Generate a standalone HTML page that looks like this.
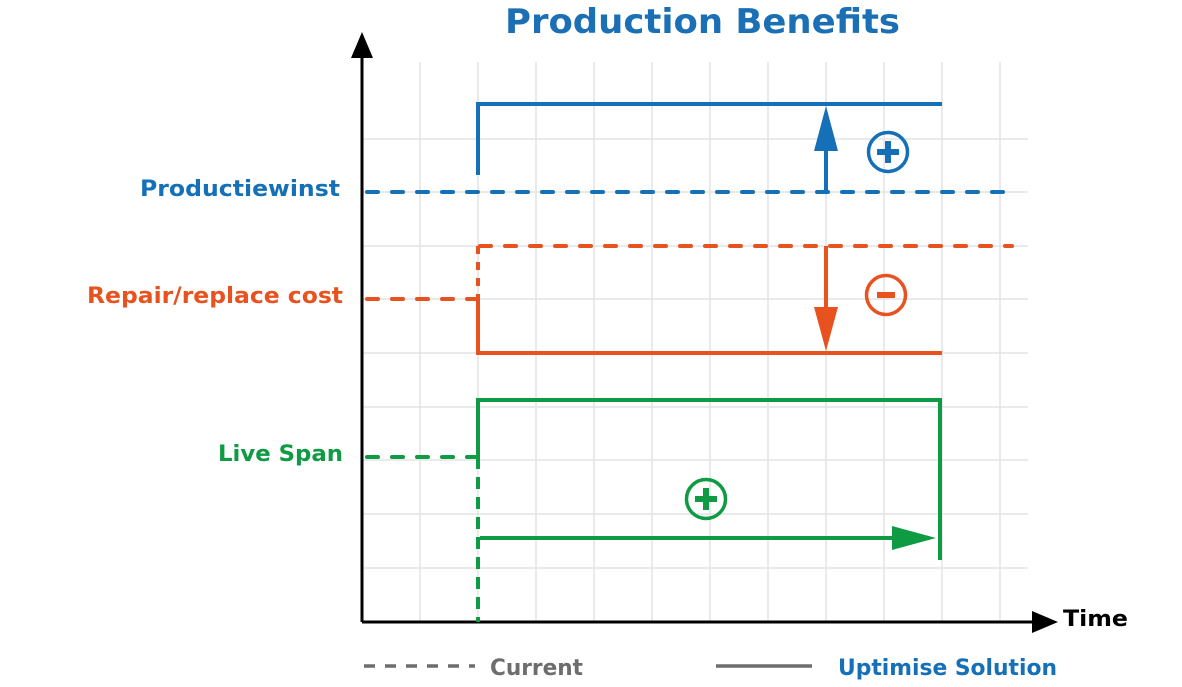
<!DOCTYPE html>
<html><head><style>
body{margin:0;background:#fff;}
svg text{font-family:"DejaVu Sans","Liberation Sans",sans-serif;font-weight:bold;}
</style></head><body>
<svg width="1182" height="682" viewBox="0 0 1182 682" xmlns="http://www.w3.org/2000/svg">
<g stroke="#e3e3e3" stroke-width="1.5">
<line x1="420" y1="62" x2="420" y2="622"/><line x1="478" y1="62" x2="478" y2="622"/><line x1="536" y1="62" x2="536" y2="622"/><line x1="594" y1="62" x2="594" y2="622"/><line x1="652" y1="62" x2="652" y2="622"/><line x1="710" y1="62" x2="710" y2="622"/><line x1="768" y1="62" x2="768" y2="622"/><line x1="826" y1="62" x2="826" y2="622"/><line x1="884" y1="62" x2="884" y2="622"/><line x1="942" y1="62" x2="942" y2="622"/><line x1="1000" y1="62" x2="1000" y2="622"/>
<line x1="362" y1="139" x2="1028" y2="139"/><line x1="362" y1="192" x2="1028" y2="192"/><line x1="362" y1="246" x2="1028" y2="246"/><line x1="362" y1="299" x2="1028" y2="299"/><line x1="362" y1="353" x2="1028" y2="353"/><line x1="362" y1="407" x2="1028" y2="407"/><line x1="362" y1="460" x2="1028" y2="460"/><line x1="362" y1="514" x2="1028" y2="514"/><line x1="362" y1="568" x2="1028" y2="568"/>
</g>
<text x="505" y="33" font-size="34" fill="#1a6fb5" textLength="395" lengthAdjust="spacingAndGlyphs">Production Benefits</text>
<line x1="362" y1="622" x2="362" y2="55" stroke="#000" stroke-width="3"/>
<polygon points="362,32 351,58 373,58" fill="#000"/>
<line x1="362" y1="622" x2="1035" y2="622" stroke="#000" stroke-width="3"/>
<polygon points="1058,622 1032,611 1032,633" fill="#000"/>
<text x="1063" y="626" font-size="22" fill="#000" textLength="65" lengthAdjust="spacingAndGlyphs">Time</text>
<g stroke="#1570b8" stroke-width="4" fill="none">
<polyline points="478,175 478,104 942,104"/>
<line x1="367" y1="192" x2="1003" y2="192" stroke-dasharray="11,14" stroke-linecap="round"/>
<line x1="826" y1="192" x2="826" y2="145"/>
<circle cx="888" cy="152" r="19.5" stroke-width="3.5"/>
</g>
<polygon points="826,106 814,151 838,151" fill="#1570b8"/>
<rect x="877" y="149" width="22" height="6" fill="#1570b8"/><rect x="885" y="141" width="6" height="22" fill="#1570b8"/>
<text x="140" y="196" font-size="22" fill="#1570b8" textLength="200" lengthAdjust="spacingAndGlyphs">Productiewinst</text>
<g stroke="#e8521e" stroke-width="4" fill="none">
<line x1="480" y1="246" x2="1012" y2="246" stroke-dasharray="11,14" stroke-linecap="round"/>
<line x1="478" y1="246" x2="478" y2="300" stroke-dasharray="8,8"/>
<line x1="367" y1="299" x2="476" y2="299" stroke-dasharray="11,14" stroke-linecap="round"/>
<polyline points="478,300 478,353 942,353"/>
<line x1="826" y1="246" x2="826" y2="312"/>
<circle cx="886" cy="295" r="19.5" stroke-width="3.5"/>
</g>
<polygon points="826,351 814,307 838,307" fill="#e8521e"/>
<rect x="877" y="292" width="18" height="6" fill="#e8521e"/>
<text x="87" y="303" font-size="22" fill="#e8521e" textLength="256" lengthAdjust="spacingAndGlyphs">Repair/replace cost</text>
<g stroke="#0f9a44" stroke-width="4" fill="none">
<polyline points="478,457 478,400 940,400 940,560"/>
<line x1="367" y1="457" x2="476" y2="457" stroke-dasharray="11,14" stroke-linecap="round"/>
<line x1="478" y1="457" x2="478" y2="622" stroke-dasharray="12,8"/>
<line x1="480" y1="538" x2="900" y2="538"/>
<circle cx="706" cy="499" r="19.5" stroke-width="3.5"/>
</g>
<polygon points="936,538 892,526 892,550" fill="#0f9a44"/>
<rect x="695" y="496" width="22" height="6" fill="#0f9a44"/><rect x="703" y="488" width="6" height="22" fill="#0f9a44"/>
<text x="218" y="461" font-size="22" fill="#0f9a44" textLength="125" lengthAdjust="spacingAndGlyphs">Live Span</text>
<line x1="364" y1="666" x2="475" y2="666" stroke="#6d6d6d" stroke-width="3.5" stroke-dasharray="11,10"/>
<text x="490" y="675" font-size="22" fill="#6d6d6d" textLength="93" lengthAdjust="spacingAndGlyphs">Current</text>
<line x1="716" y1="666" x2="812" y2="666" stroke="#6d6d6d" stroke-width="3.5"/>
<text x="838" y="675" font-size="22" fill="#1570b8" textLength="219" lengthAdjust="spacingAndGlyphs">Uptimise Solution</text>
</svg>
</body></html>
